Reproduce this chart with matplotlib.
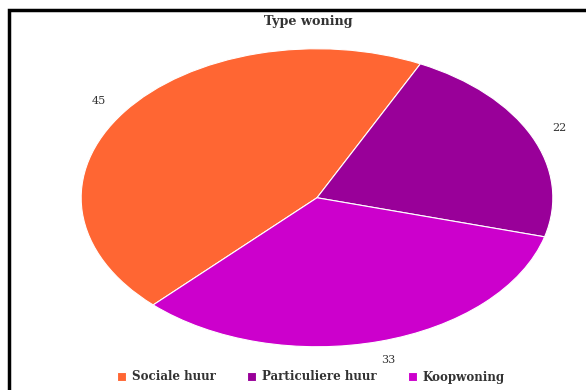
import matplotlib.pyplot as plt
from matplotlib.patches import Rectangle

categories = ["Sociale huur", "Particuliere huur", "Koopwoning"]
values = [45, 22, 33]
colors = ["#FF6633", "#990099", "#CC00CC"]

plt.rcParams["font.family"] = ["DejaVu Serif"]

fig = plt.figure(figsize=(5.86, 3.9), dpi=100)
ax = fig.add_axes([34 / 586, 6 / 390, 566 / 586, 372.5 / 390])

wedges, texts = ax.pie(values, colors=colors, startangle=226, counterclock=False,
                       labels=[str(v) for v in values], labeldistance=1.13,
                       wedgeprops=dict(edgecolor="white", linewidth=0.8),
                       textprops=dict(fontsize=8, color="#333333"))
for t in texts:
    t.set_horizontalalignment("center")
    t.set_verticalalignment("center")
ax.set_aspect("auto")
ax.set_xlim(-1.2, 1.2)
ax.set_ylim(-1.25, 1.25)

fig.text(308 / 586, 1 - 22 / 390, "Type woning", ha="center", va="center",
         fontsize=9.2, fontweight="bold", color="#333333")

fig.legend(wedges, categories, loc="center", ncol=3,
           bbox_to_anchor=(311 / 586, 1 - 377 / 390), frameon=False,
           handlelength=0.75, handleheight=0.7, columnspacing=2.6,
           handletextpad=0.5, labelcolor="#333333",
           prop=dict(weight="bold", size=8.6))

# border of the original screenshot
fig.add_artist(Rectangle((9 / 586, -0.1), 1.2, 1 - 10 / 390 + 0.1,
                         transform=fig.transFigure, fill=False,
                         edgecolor="black", linewidth=2.5))

fig.savefig("out.png", dpi=100)
